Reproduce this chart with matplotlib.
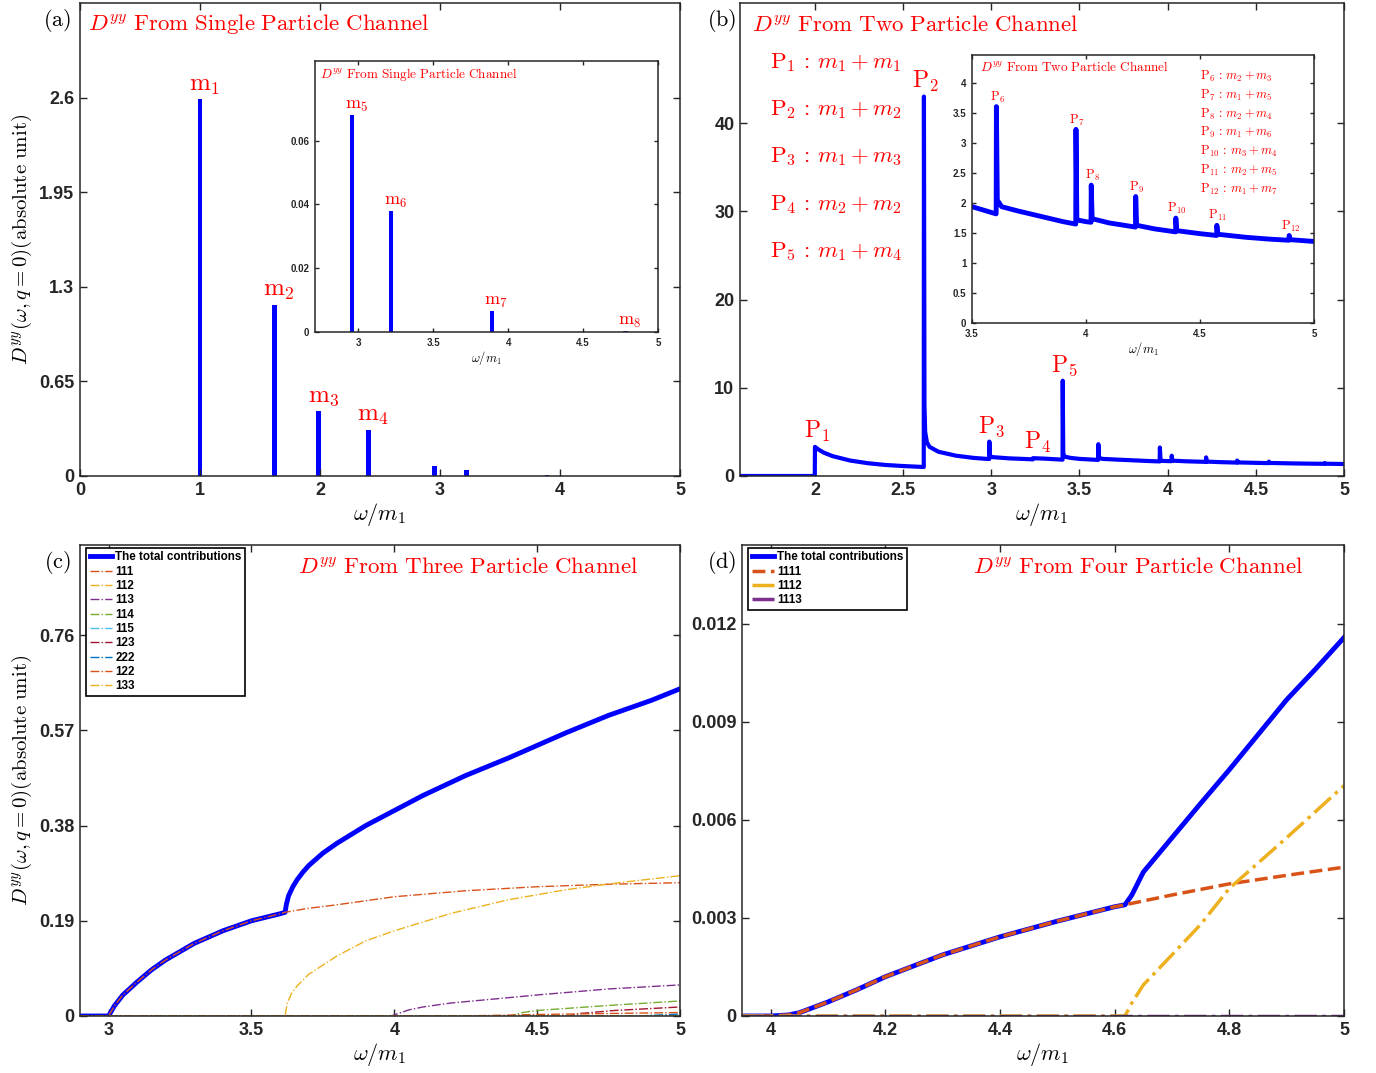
import numpy as np
import matplotlib
matplotlib.use('Agg')
import matplotlib.pyplot as plt

plt.rcParams['mathtext.fontset'] = 'cm'
plt.rcParams['font.family'] = ['Liberation Sans', 'DejaVu Sans']
plt.rcParams['axes.unicode_minus'] = False

RED = '#FF0000'
BLUE = '#0000FF'
GRAY = '#262626'

# ---- (a) single particle channel: masses and weights
a_mass = [1.0, 1.618, 1.989, 2.405, 2.956, 3.218, 3.891, 4.783]
a_weight = [2.587, 1.174, 0.444, 0.314, 0.068, 0.038, 0.0065, 0.0003]
a_names = ['1', '2', '3', '4', '5', '6', '7', '8']

# ---- (b) two particle channel curve
b_x = [1.575, 1.999, 2.0, 2.02, 2.05, 2.1, 2.2, 2.3, 2.4, 2.5, 2.617, 2.618, 2.621, 2.625,
       2.635, 2.65, 2.7, 2.8, 2.9, 2.988, 2.989, 2.993, 3.0, 3.1, 3.2, 3.235, 3.236, 3.3,
       3.404, 3.405, 3.408, 3.415, 3.45, 3.5, 3.606, 3.607, 3.611, 3.63, 3.7, 3.8, 3.9,
       3.955, 3.956, 3.96, 4.0, 4.022, 4.023, 4.027, 4.1, 4.2, 4.217, 4.218, 4.222, 4.3,
       4.393, 4.394, 4.398, 4.5, 4.573, 4.574, 4.578, 4.7, 4.8, 4.89, 4.891, 4.895, 5.0]
b_y = [0, 0, 3.3, 3.0, 2.65, 2.25, 1.75, 1.45, 1.25, 1.13, 1.02, 43.0, 8.0, 5.0,
       3.8, 3.3, 2.75, 2.3, 2.05, 1.92, 3.9, 2.3, 2.15, 2.0, 1.92, 1.88, 2.02, 1.97,
       1.85, 10.8, 2.6, 2.2, 2.05, 1.94, 1.82, 3.61, 2.05, 1.94, 1.87, 1.78, 1.69,
       1.65, 3.23, 1.72, 1.69, 1.68, 2.3, 1.74, 1.67, 1.61, 1.60, 2.11, 1.63, 1.57,
       1.52, 1.75, 1.54, 1.49, 1.46, 1.63, 1.48, 1.43, 1.40, 1.38, 1.46, 1.39, 1.36]
b_peak_x = [2.0, 2.618, 2.989, 3.25, 3.405]
b_peak_y = [3.3, 43.0, 3.9, 2.05, 10.8]
b_pairs = ['m_1 + m_1', 'm_1 + m_2', 'm_1 + m_3', 'm_2 + m_2', 'm_1 + m_4']
b_in_peak_x = [3.607, 3.956, 4.023, 4.218, 4.394, 4.574, 4.891]
b_in_peak_y = [3.61, 3.23, 2.3, 2.11, 1.75, 1.63, 1.46]
b_in_pairs = ['m_2 + m_3', 'm_1 + m_5', 'm_2 + m_4', 'm_1 + m_6', 'm_3 + m_4',
              'm_2 + m_5', 'm_1 + m_7']

# ---- (c) three particle channel
c_tot_x = [2.9, 3.0, 3.02, 3.05, 3.1, 3.15, 3.2, 3.3, 3.4, 3.5, 3.6, 3.618, 3.622, 3.63,
           3.645, 3.66, 3.68, 3.7, 3.75, 3.8, 3.9, 4.0, 4.1, 4.25, 4.4, 4.5, 4.6, 4.75,
           4.9, 5.0]
c_tot_y = [0, 0, 0.02, 0.042, 0.068, 0.092, 0.112, 0.145, 0.17, 0.19, 0.204, 0.207, 0.222,
           0.24, 0.258, 0.272, 0.287, 0.30, 0.325, 0.345, 0.38, 0.41, 0.44, 0.48, 0.515,
           0.54, 0.565, 0.60, 0.63, 0.653]
c_111_x = [2.9, 3.0, 3.02, 3.05, 3.1, 3.15, 3.2, 3.3, 3.4, 3.5, 3.6, 3.618, 3.7, 3.8,
           4.0, 4.25, 4.5, 4.75, 5.0]
c_111_y = [0, 0, 0.02, 0.042, 0.068, 0.092, 0.112, 0.145, 0.17, 0.19, 0.204, 0.207, 0.215,
           0.222, 0.238, 0.25, 0.258, 0.263, 0.266]
c_112_x = [2.9, 3.618, 3.625, 3.64, 3.66, 3.7, 3.8, 3.9, 4.0, 4.2, 4.4, 4.6, 4.8, 5.0]
c_112_y = [0, 0, 0.025, 0.045, 0.06, 0.083, 0.12, 0.15, 0.17, 0.205, 0.232, 0.252, 0.267, 0.28]
c_113_x = [2.9, 3.989, 4.05, 4.1, 4.2, 4.37, 4.5, 4.75, 5.0]
c_113_y = [0, 0, 0.012, 0.018, 0.026, 0.035, 0.042, 0.054, 0.062]
c_114_x = [2.9, 4.405, 4.45, 4.5, 4.75, 5.0]
c_114_y = [0, 0, 0.007, 0.011, 0.021, 0.03]
c_115_x = [2.9, 4.956, 5.0]
c_115_y = [0, 0, 0.003]
c_123_x = [2.9, 4.607, 4.65, 4.77, 5.0]
c_123_y = [0, 0, 0.005, 0.011, 0.018]
c_222_x = [2.9, 4.854, 5.0]
c_222_y = [0, 0, 0.004]
c_122_x = [2.9, 4.236, 4.5, 5.0]
c_122_y = [0, 0, 0.003, 0.007]
c_133_x = [2.9, 4.979, 5.0]
c_133_y = [0, 0, 0.001]

# ---- (d) four particle channel
d_tot_x = [3.95, 4.0, 4.03, 4.05, 4.1, 4.15, 4.2, 4.3, 4.4, 4.5, 4.6, 4.618, 4.63, 4.65,
           4.7, 4.75, 4.8, 4.85, 4.9, 4.95, 5.0]
d_tot_y = [0, 0, 0.00003, 0.0001, 0.00043, 0.0008, 0.0012, 0.00187, 0.00242, 0.0029,
           0.00334, 0.0034, 0.0037, 0.0044, 0.00545, 0.0065, 0.00753, 0.0086, 0.00967,
           0.0106, 0.01157]
d_1111_x = [3.95, 4.0, 4.03, 4.05, 4.1, 4.15, 4.2, 4.3, 4.4, 4.5, 4.6, 4.618, 4.7, 4.8,
            4.9, 5.0]
d_1111_y = [0, 0, 0.00003, 0.0001, 0.00043, 0.0008, 0.0012, 0.00187, 0.00242, 0.0029,
            0.00334, 0.0034, 0.0037, 0.00404, 0.0043, 0.00455]
d_1112_x = [3.95, 4.618, 4.63, 4.65, 4.7, 4.75, 4.8, 4.9, 5.0]
d_1112_y = [0, 0, 0.0004, 0.00095, 0.00187, 0.0028, 0.0039, 0.00545, 0.00704]
d_1113_x = [3.95, 5.0]
d_1113_y = [0, 0]

W, H = 1376, 1073
fig = plt.figure(figsize=(W / 100, H / 100), dpi=100)


def box(l, t, r, b):
    return [l / W, 1 - b / H, (r - l) / W, (b - t) / H]


def style(ax, size=13, ticklen=5):
    ax.tick_params(direction='in', top=True, right=True, length=ticklen, width=1.0,
                   colors=GRAY, labelsize=size, pad=4)
    for lab in ax.get_xticklabels() + ax.get_yticklabels():
        lab.set_fontweight('bold')
    for s in ax.spines.values():
        s.set_linewidth(1.1)
        s.set_color(GRAY)


def legend(ax):
    leg = ax.legend(loc='upper left', bbox_to_anchor=(0.01, 0.994), borderaxespad=0,
                    fancybox=False, edgecolor='black', framealpha=1,
                    prop={'size': 8.4, 'weight': 'bold'}, handlelength=1.9,
                    handletextpad=0.3, labelspacing=0.2, borderpad=0.3)
    leg.get_frame().set_linewidth(1.2)


ylab = r'$D^{yy}(\omega, q=0)\mathrm{(absolute\ unit)}$'
xlab = r'$\omega/m_1$'
TS = 16.5

# ================= (a)
ax = fig.add_axes(box(80, 3, 680, 476))
ax.bar(a_mass, a_weight, width=0.04, color=BLUE)
ax.set_xlim(0, 5)
ax.set_ylim(0, 3.25)
ax.set_xticks([0, 1, 2, 3, 4, 5])
ax.set_yticks([0, 0.65, 1.3, 1.95, 2.6])
ax.set_yticklabels(['0', '0.65', '1.3', '1.95', '2.6'])
style(ax)
ax.set_xlabel(xlab, fontsize=16, labelpad=2)
ax.set_ylabel(ylab, fontsize=15, labelpad=4)
ax.text(0.013, 0.955, r'$D^{yy}\ \mathrm{From\ Single\ Particle\ Channel}$', color=RED,
        fontsize=TS, transform=ax.transAxes, va='center')
for i in range(4):
    ax.text(a_mass[i] + 0.04, a_weight[i] + 0.02, r'$\mathrm{m}_{%s}$' % a_names[i],
            color=RED, fontsize=18, ha='center', va='bottom')

ins = fig.add_axes(box(315, 61, 658, 332))
ins.bar(a_mass, a_weight, width=0.03, color=BLUE)
ins.set_xlim(2.71, 5)
ins.set_ylim(0, 0.085)
ins.set_xticks([3, 3.5, 4, 4.5, 5])
ins.set_xticklabels(['3', '3.5', '4', '4.5', '5'])
ins.set_yticks([0, 0.02, 0.04, 0.06])
ins.set_yticklabels(['0', '0.02', '0.04', '0.06'])
style(ins, size=7, ticklen=3)
ins.set_xlabel(xlab, fontsize=9, labelpad=1)
ins.text(0.015, 0.952, r'$D^{yy}\ \mathrm{From\ Single\ Particle\ Channel}$', color=RED,
         fontsize=9.5, transform=ins.transAxes, va='center')
for i in range(4, 8):
    ins.text(a_mass[i] + 0.03, a_weight[i] + 0.0003, r'$\mathrm{m}_{%s}$' % a_names[i],
             color=RED, fontsize=13, ha='center', va='bottom')

# ================= (b)
ax = fig.add_axes(box(740, 3, 1344, 476))
ax.plot(b_x, b_y, color=BLUE, lw=3)
ax.set_xlim(1.575, 5)
ax.set_ylim(0, 53.6)
ax.set_xticks([2, 2.5, 3, 3.5, 4, 4.5, 5])
ax.set_xticklabels(['2', '2.5', '3', '3.5', '4', '4.5', '5'])
ax.set_yticks([0, 10, 20, 30, 40])
style(ax)
ax.set_xlabel(xlab, fontsize=16, labelpad=2)
ax.text(0.02, 0.955, r'$D^{yy}\ \mathrm{From\ Two\ Particle\ Channel}$', color=RED,
        fontsize=TS, transform=ax.transAxes, va='center')
for i in range(5):
    ax.text(0.05, 0.875 - i * 0.1, r'$\mathrm{P}_{%d}\,:\,%s$' % (i + 1, b_pairs[i]),
            color=RED, fontsize=16.5, transform=ax.transAxes, va='center')
    ax.text(b_peak_x[i] + 0.01, b_peak_y[i] + 0.3, r'$\mathrm{P}_{%d}$' % (i + 1),
            color=RED, fontsize=17, ha='center', va='bottom')

ins = fig.add_axes(box(972, 55, 1314, 323))
ins.plot(b_x, b_y, color=BLUE, lw=3.5)
ins.set_xlim(3.5, 5)
ins.set_ylim(0, 4.47)
ins.set_xticks([3.5, 4, 4.5, 5])
ins.set_xticklabels(['3.5', '4', '4.5', '5'])
ins.set_yticks([0, 0.5, 1, 1.5, 2, 2.5, 3, 3.5, 4])
ins.set_yticklabels(['0', '0.5', '1', '1.5', '2', '2.5', '3', '3.5', '4'])
style(ins, size=7, ticklen=3)
ins.set_xlabel(xlab, fontsize=9, labelpad=1)
ins.text(0.023, 0.955, r'$D^{yy}\ \mathrm{From\ Two\ Particle\ Channel}$', color=RED,
         fontsize=9.5, transform=ins.transAxes, va='center')
for i in range(7):
    ins.text(0.667, 0.92 - i * 0.07, r'$\mathrm{P}_{%d}\,:\,%s$' % (i + 6, b_in_pairs[i]),
             color=RED, fontsize=9, transform=ins.transAxes, va='center')
    ins.text(b_in_peak_x[i] + 0.005, b_in_peak_y[i] + 0.03, r'$\mathrm{P}_{%d}$' % (i + 6),
             color=RED, fontsize=9, ha='center', va='bottom')

# ================= (c)
ax = fig.add_axes(box(80, 545, 680, 1016))
ax.plot(c_tot_x, c_tot_y, color=BLUE, lw=3.5, label='The total contributions')
comps = [(c_111_x, c_111_y, '#D95319', '111'), (c_112_x, c_112_y, '#EDB120', '112'),
         (c_113_x, c_113_y, '#7E2F8E', '113'), (c_114_x, c_114_y, '#77AC30', '114'),
         (c_115_x, c_115_y, '#4DBEEE', '115'), (c_123_x, c_123_y, '#A2142F', '123'),
         (c_222_x, c_222_y, '#0072BD', '222'), (c_122_x, c_122_y, '#D95319', '122'),
         (c_133_x, c_133_y, '#EDB120', '133')]
for cx, cy, col, name in comps:
    ax.plot(cx, cy, color=col, lw=1.0, ls='-.', label=name)
ax.set_xlim(2.9, 5)
ax.set_ylim(0, 0.94)
ax.set_xticks([3, 3.5, 4, 4.5, 5])
ax.set_xticklabels(['3', '3.5', '4', '4.5', '5'])
ax.set_yticks([0, 0.19, 0.38, 0.57, 0.76])
ax.set_yticklabels(['0', '0.19', '0.38', '0.57', '0.76'])
style(ax)
ax.set_xlabel(xlab, fontsize=16, labelpad=2)
ax.set_ylabel(ylab, fontsize=15, labelpad=4)
ax.text(0.363, 0.955, r'$D^{yy}\ \mathrm{From\ Three\ Particle\ Channel}$', color=RED,
        fontsize=TS, transform=ax.transAxes, va='center')
legend(ax)

# ================= (d)
ax = fig.add_axes(box(742, 545, 1344, 1016))
ax.plot(d_tot_x, d_tot_y, color=BLUE, lw=3.5, label='The total contributions')
ax.plot(d_1111_x, d_1111_y, color='#D95319', lw=2.5, ls='--', label='1111')
ax.plot(d_1112_x, d_1112_y, color='#EDB120', lw=2.5, ls='-.', label='1112')
ax.plot(d_1113_x, d_1113_y, color='#7E2F8E', lw=2.5, ls='-.', label='1113')
ax.set_xlim(3.95, 5)
ax.set_ylim(0, 0.0144)
ax.set_xticks([4, 4.2, 4.4, 4.6, 4.8, 5])
ax.set_xticklabels(['4', '4.2', '4.4', '4.6', '4.8', '5'])
ax.set_yticks([0, 0.003, 0.006, 0.009, 0.012])
ax.set_yticklabels(['0', '0.003', '0.006', '0.009', '0.012'])
style(ax)
ax.set_xlabel(xlab, fontsize=16, labelpad=2)
ax.text(0.384, 0.955, r'$D^{yy}\ \mathrm{From\ Four\ Particle\ Channel}$', color=RED,
        fontsize=TS, transform=ax.transAxes, va='center')
legend(ax)

# panel labels
for lab, px, py in [('a', 57, 20), ('b', 722, 20), ('c', 57, 562), ('d', 722, 562)]:
    fig.text(px / W, 1 - py / H, r'$\mathrm{(%s)}$' % lab, fontsize=16, ha='center',
             va='center', color='black')

fig.savefig('out.png', dpi=100)
